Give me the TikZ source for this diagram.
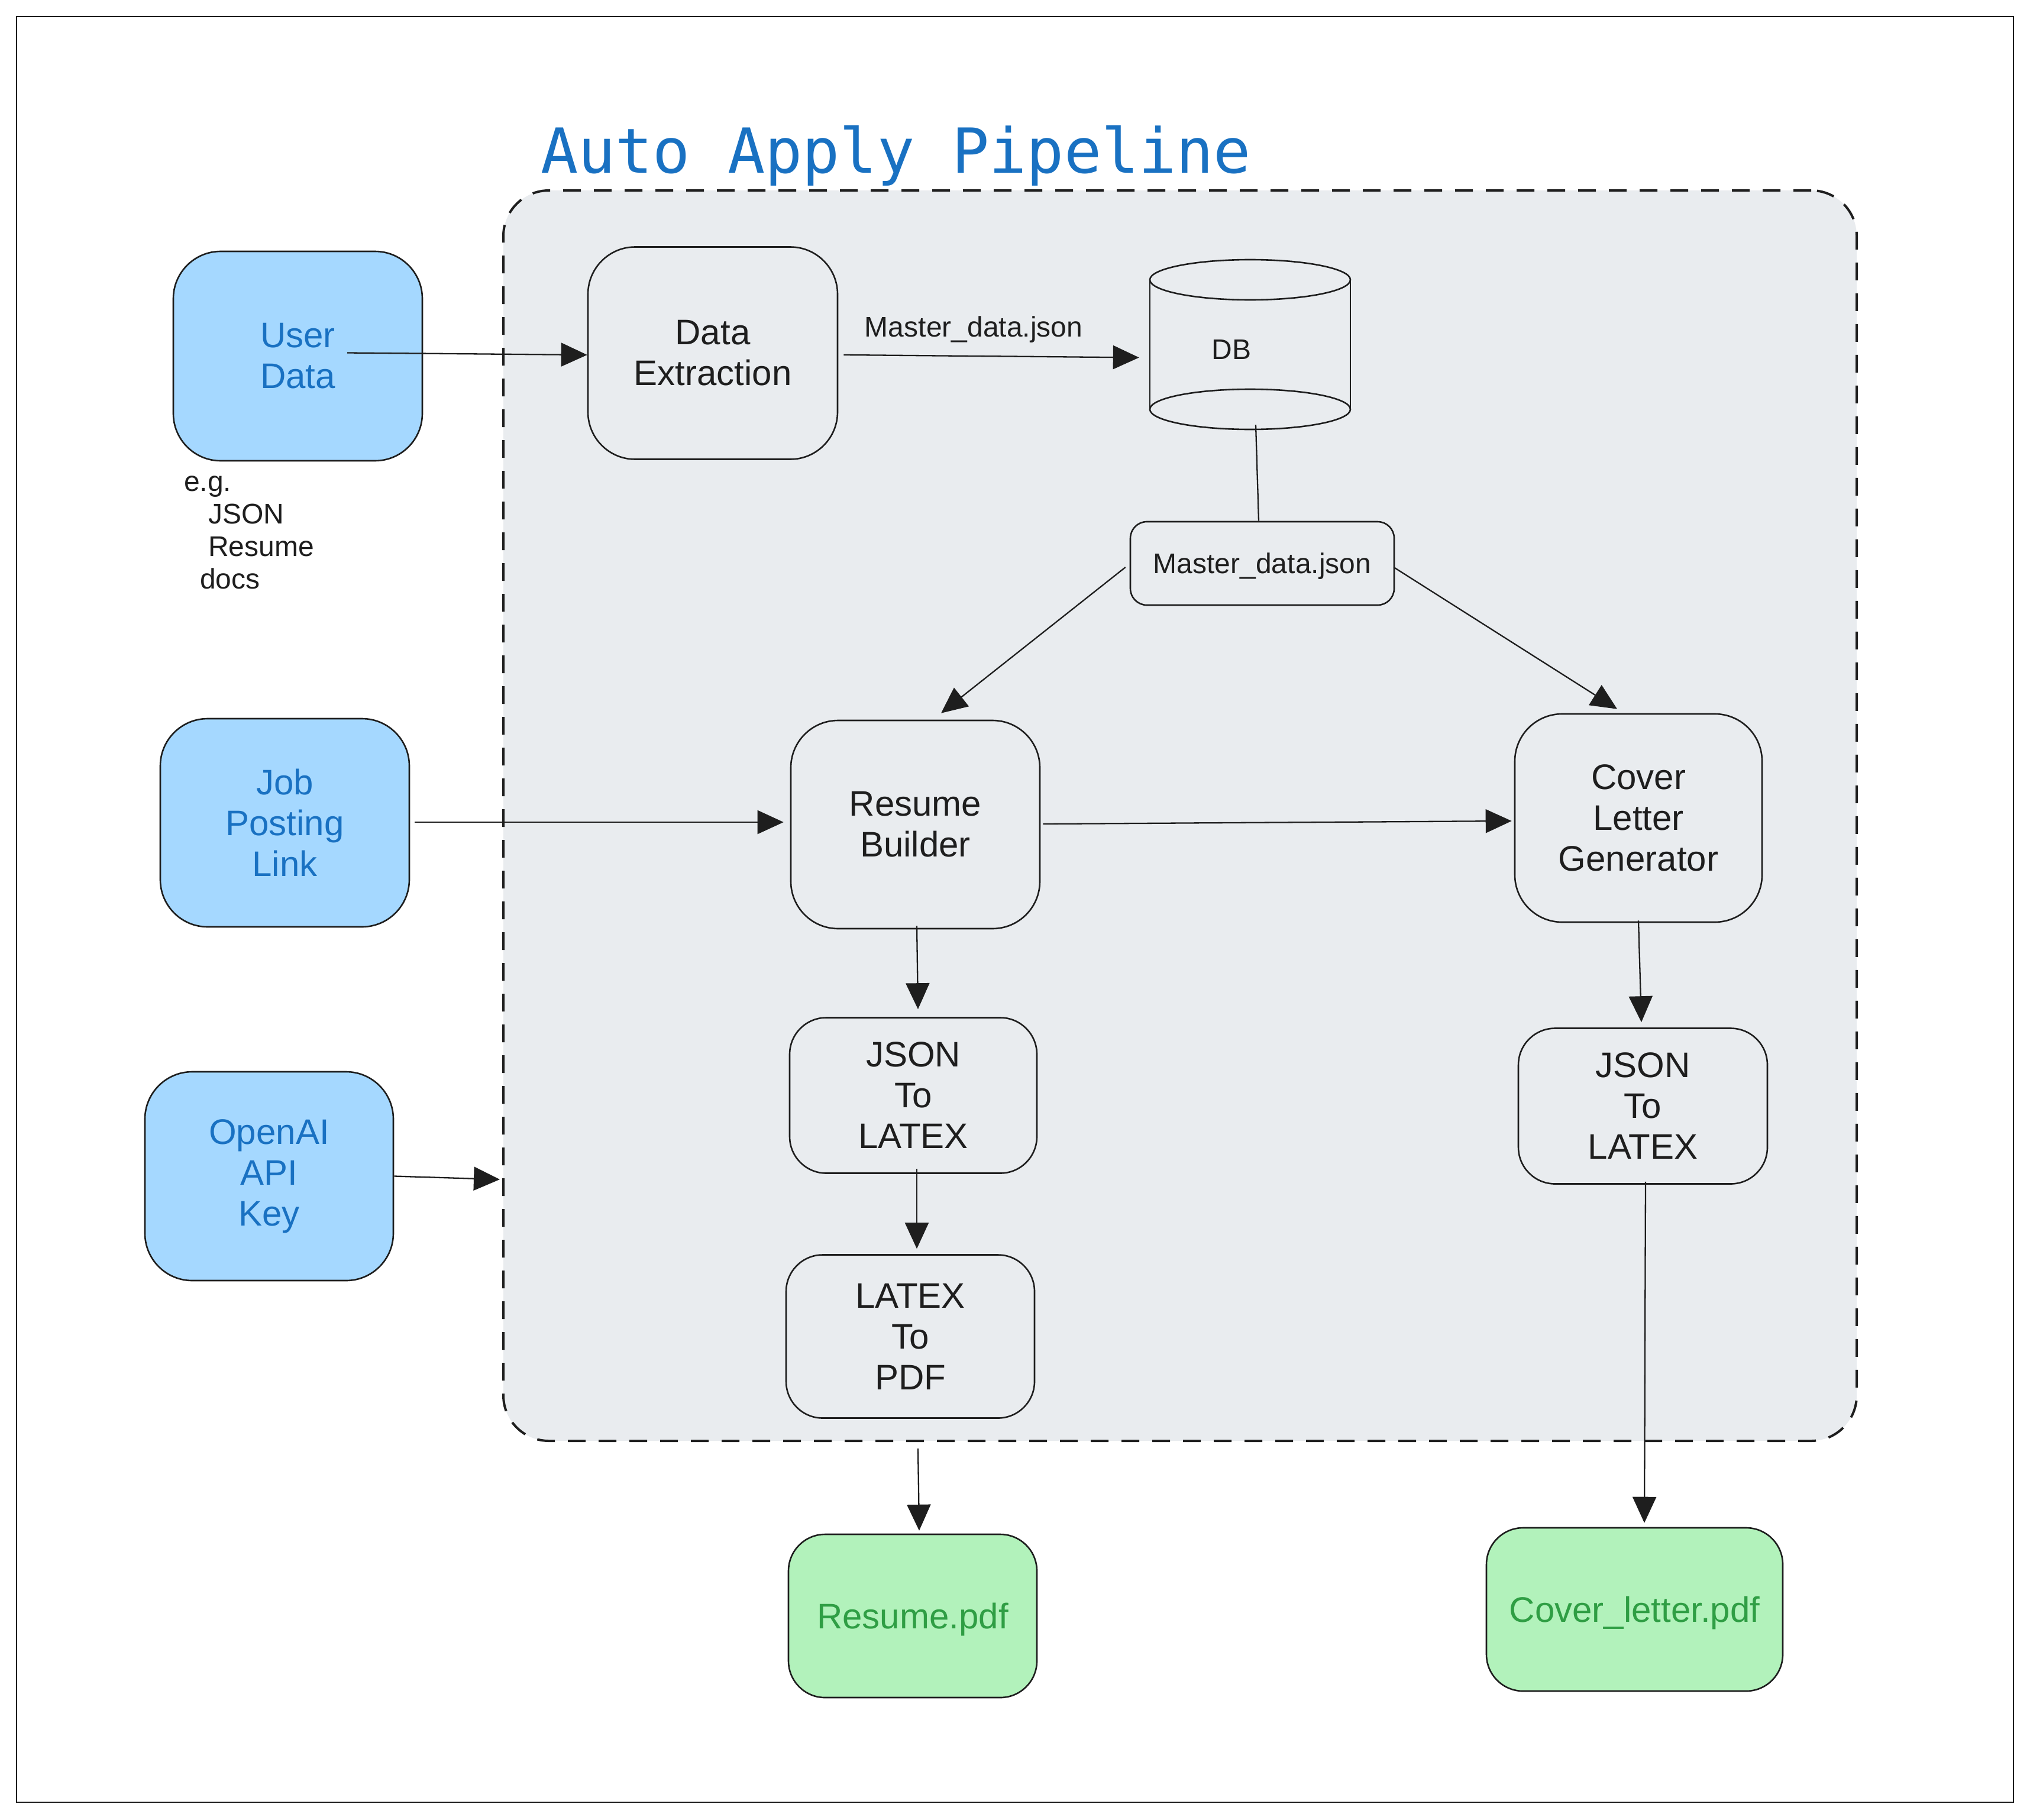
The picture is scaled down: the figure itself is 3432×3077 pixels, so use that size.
\documentclass[tikz,border=0pt]{standalone}
\usepackage{fontspec}
\setmainfont{Liberation Sans}
\newfontfamily\titlefont{DejaVu Sans Mono}
\usetikzlibrary{arrows.meta}
\definecolor{ink}{HTML}{1E1E1E}
\definecolor{bluefill}{HTML}{A5D8FF}
\definecolor{bluetext}{HTML}{1971C2}
\definecolor{greenfill}{HTML}{B2F2BB}
\definecolor{greentext}{HTML}{2F9E44}
\definecolor{panel}{HTML}{E9ECEF}
\tikzset{
  base/.style={draw=ink, line width=2.6pt, align=center, inner sep=0pt, text=ink,
    font=\fontsize{60}{69}\selectfont},
  bigbox/.style={base, rounded corners=80pt},
  midbox/.style={base, rounded corners=62pt},
  smallbox/.style={base, rounded corners=28pt, font=\fontsize{48}{55}\selectfont},
  inbox/.style={fill=bluefill, text=bluetext},
  outbox/.style={fill=greenfill, text=greentext},
  oneline/.style={text depth=0pt},
  lbl/.style={inner sep=0pt, text=ink, font=\fontsize{48}{55}\selectfont},
  conn/.style={draw=ink, line width=2.3pt},
  arr/.style={conn, -{Triangle[length=44pt,width=40pt]}},
  container/.style={draw=ink, line width=4pt, fill=panel, rounded corners=77pt,
    dash pattern=on 30pt off 22pt, inner sep=0pt},
  cylline/.style={draw=ink, line width=2.6pt},
}
\begin{document}
\begin{tikzpicture}[x=1pt,y=-1pt]
\useasboundingbox (0,0) rectangle (3432,3077);
\fill[white] (0,0) rectangle (3432,3077);
\draw[draw=ink, line width=2.8pt] (28,28) rectangle (3404,3047);

% title
\node[anchor=base west, inner sep=0pt, text=bluetext, font=\titlefont\fontsize{105}{120}\selectfont] (title) at (914,293) {Auto Apply Pipeline};

% container
\node[container, minimum width=2288pt, minimum height=2114pt] (cont) at (1995,1379) {};

% inputs
\node[bigbox, inbox, minimum width=421pt, minimum height=354pt] (ud) at (503.5,602) {User\\Data};
\node[bigbox, inbox, minimum width=421pt, minimum height=352pt] (jp) at (481.5,1391) {Job\\Posting\\Link};
\node[bigbox, inbox, minimum width=420pt, minimum height=353pt] (oa) at (455,1988.5) {OpenAI\\API\\Key};

\node[lbl, anchor=north west, align=left] (eg) at (311,804) {e.g.\\\hspace*{41pt}JSON\\\hspace*{41pt}Resume\\\hspace*{27pt}docs};

% pipeline boxes
\node[bigbox, minimum width=422pt, minimum height=359pt] (de) at (1205,597) {Data\\Extraction};
\node[bigbox, minimum width=421pt, minimum height=352pt] (rb) at (1547.5,1394) {Resume\\Builder};
\node[bigbox, minimum width=418pt, minimum height=352pt] (clg) at (2770,1383) {Cover\\Letter\\Generator};
\node[midbox, minimum width=418pt, minimum height=263pt] (jl) at (1544,1852) {JSON\\To\\LATEX};
\node[midbox, minimum width=420pt, minimum height=276pt] (lp) at (1539,2259.5) {LATEX\\To\\PDF};
\node[midbox, minimum width=421pt, minimum height=263pt] (jr) at (2777.5,1870) {JSON\\To\\LATEX};
\node[smallbox, oneline, minimum width=446pt, minimum height=141pt] (md) at (2134,952.5) {Master\_data.json};

% outputs
\node[midbox, outbox, oneline, minimum width=420pt, minimum height=276pt] (rpdf) at (1543,2732) {Resume.pdf};
\node[midbox, outbox, oneline, minimum width=501pt, minimum height=276pt] (cpdf) at (2763.5,2721) {Cover\_letter.pdf};

% DB cylinder
\node[inner sep=0pt, minimum width=339pt, minimum height=287pt] (db) at (2113.5,582.5) {};
\draw[cylline] (1944,473) -- (1944,692);
\draw[cylline] (2283,473) -- (2283,692);
\draw[cylline] (2113.5,473) ellipse [x radius=169.5pt, y radius=34pt];
\draw[cylline] (2113.5,692) ellipse [x radius=169.5pt, y radius=34pt];
\node[lbl] (dbt) at (2082,591) {DB};

% connectors
\draw[arr] ([xshift=83.5pt,yshift=5.5pt]ud.center) -- ([yshift=-3pt]de.west);
\draw[arr] ([xshift=9pt,yshift=-3pt]de.east) -- node[lbl, oneline, pos=0.44, yshift=50pt] {Master\_data.json} ([xshift=-18pt,yshift=-22pt]db.west);
\draw[conn] ([xshift=9.5pt,yshift=8pt]db.south) -- ([xshift=-6pt]md.north);
\draw[arr] ([xshift=-7pt,yshift=-6.5pt]md.west) -- ([xshift=43.5pt,yshift=11pt]rb.north);
\draw[arr] ([xshift=-2pt,yshift=-6.5pt]md.east) -- ([xshift=-36pt,yshift=7pt]clg.north);
\draw[arr] ([xshift=8pt,yshift=1pt]jp.east) -- ([xshift=-11pt,yshift=4pt]rb.west);
\draw[arr] ([xshift=4pt,yshift=1pt]rb.east) -- ([xshift=-4pt,yshift=-5pt]clg.west);
\draw[arr] ([xshift=2.5pt,yshift=6pt]rb.south) -- ([xshift=8pt,yshift=13pt]jl.north);
\draw[arr] ([xshift=6pt,yshift=9pt]jl.south) -- ([xshift=11pt,yshift=9pt]lp.north);
\draw[arr] ([xshift=13pt,yshift=-50pt]lp.south) -- ([xshift=11pt,yshift=5pt]rpdf.north);
\draw[arr] ([yshift=4pt]clg.south) -- ([xshift=-2.5pt,yshift=9pt]jr.north);
\draw[arr] ([xshift=4.5pt,yshift=5pt]jr.south) -- ([xshift=16.5pt,yshift=7pt]cpdf.north);
\draw[arr] (oa.east) -- ([xshift=-4pt,yshift=-615pt]cont.west);
\end{tikzpicture}
\end{document}
